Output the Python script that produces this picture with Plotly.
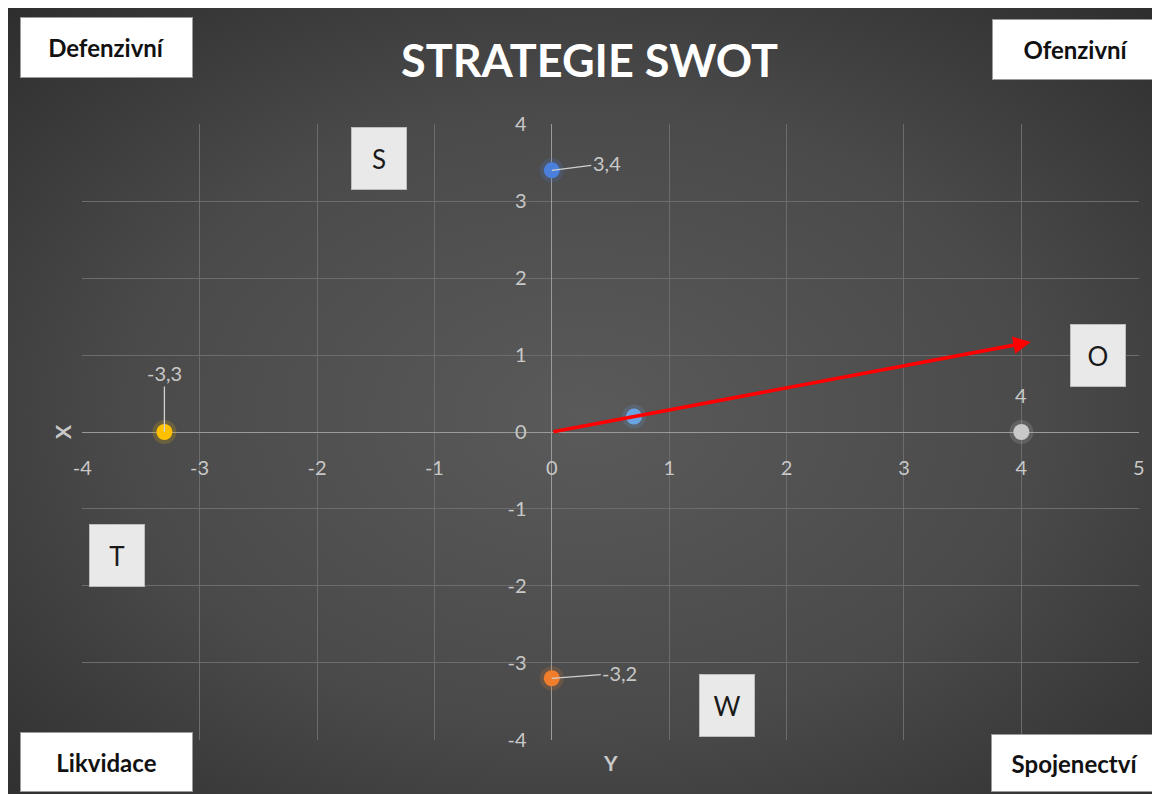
import base64
import plotly.graph_objects as go

# ---------------- data ----------------
point_names = ["S", "W", "O", "T", "Výsledek"]
point_x = [0, 0, 4, -3.3, 0.7]
point_y = [3.4, -3.2, 0, 0, 0.2]
point_colors = ["#4a7fdc", "#f07d2c", "#c9c9c9", "#ffc000", "#6aa3e2"]

label_values = [3.4, -3.2, 4, -3.3]          # data labels for S, W, O, T
arrow_end = [4.08, 1.17]                       # direction of resulting strategy

x_ticks = [-4, -3, -2, -1, 0, 1, 2, 3, 4, 5]
y_ticks = [-4, -3, -2, -1, 0, 1, 2, 3, 4]

quadrant_letters = ["S", "W", "O", "T"]
quadrant_pos_x = [-1.47, 1.49, 4.65, -3.70]
quadrant_pos_y = [3.55, -3.55, 0.99, -1.60]

corner_texts = ["Defenzivní", "Ofenzivní", "Likvidace", "Spojenectví"]
title_text = "STRATEGIE SWOT"

# ---------------- geometry (reference pixel frame, page has 8px body margin) ----------------
OX, OY = 8, 8
W, H = 1152, 786
PX_L, PX_R, PX_T, PX_B = 82, 1139, 124, 740
X0_PX, Y0_PX = 551.5, 432


def fx(px):
    return (px - OX) / W


def fy(py):
    return 1 - (py - OY) / H


def fmt(v):
    return ("%g" % v).replace(".", ",")


TICK_COL = "#c8c8c8"
FONT = "Lato"

fig = go.Figure()

# soft glow under markers
fig.add_trace(go.Scatter(
    x=point_x, y=point_y, mode="markers",
    marker=dict(size=24, color=point_colors, opacity=0.18, line=dict(width=0)),
    hoverinfo="skip", showlegend=False))
fig.add_trace(go.Scatter(
    x=point_x, y=point_y, mode="markers",
    marker=dict(size=16, color=point_colors, line=dict(width=0)),
    text=point_names, showlegend=False))

# background gradient (radial) as svg image
svg = ("<svg xmlns='http://www.w3.org/2000/svg' width='1152' height='786' "
       "viewBox='0 0 1152 786' preserveAspectRatio='none'>"
       "<defs><radialGradient id='g' cx='50%' cy='52%' r='72%'>"
       "<stop offset='0' stop-color='#5a5a5a'/>"
       "<stop offset='0.55' stop-color='#4a4a4a'/>"
       "<stop offset='1' stop-color='#2e2e2e'/></radialGradient></defs>"
       "<rect width='100%' height='100%' fill='url(#g)'/></svg>")
src = "data:image/svg+xml;base64," + base64.b64encode(svg.encode()).decode()

annotations = []

# title
annotations.append(dict(
    text="<b>" + title_text + "</b>", xref="paper", yref="paper",
    x=fx(589), y=fy(60), xanchor="center", yanchor="middle", showarrow=False,
    font=dict(family=FONT, size=45, color="#ffffff")))

# corner boxes
corner_cx = [106, 1076, 106, 1075]
corner_cy = [47, 50, 762, 763]
corner_w = [171, 166, 171, 166]
corner_h = [59, 59, 58, 56]
for t, cx, cy, w, h in zip(corner_texts, corner_cx, corner_cy, corner_w, corner_h):
    annotations.append(dict(
        text="<b>" + t + "</b>", xref="paper", yref="paper", x=fx(cx), y=fy(cy),
        xanchor="center", yanchor="middle", showarrow=False, width=w, height=h,
        bgcolor="#ffffff", bordercolor="#9a9a9a", borderwidth=1, borderpad=0,
        font=dict(family=FONT, size=24, color="#111111")))

# quadrant letter boxes
for t, qx, qy in zip(quadrant_letters, quadrant_pos_x, quadrant_pos_y):
    annotations.append(dict(
        text=t, x=qx, y=qy, xref="x", yref="y", showarrow=False,
        xanchor="center", yanchor="middle", width=54, height=61,
        bgcolor="#e9e9e9", bordercolor="#bdbdbd", borderwidth=1, borderpad=0,
        font=dict(family=FONT, size=26, color="#1a1a1a")))

# data labels
lab_ax = [55, 68, 0, 0]
lab_ay = [-7, -5, -37, -59]
lab_arrow = [True, True, False, True]
for i, v in enumerate(label_values):
    annotations.append(dict(
        text=fmt(v), x=point_x[i], y=point_y[i], xref="x", yref="y",
        showarrow=True, ax=lab_ax[i], ay=lab_ay[i], arrowhead=0,
        arrowwidth=1.3, standoff=0,
        arrowcolor="#d0d0d0" if lab_arrow[i] else "rgba(0,0,0,0)",
        font=dict(family=FONT, size=20, color=TICK_COL)))

# resulting strategy arrow
annotations.append(dict(
    x=arrow_end[0], y=arrow_end[1], ax=0, ay=0, xref="x", yref="y",
    axref="x", ayref="y", text="", showarrow=True, arrowhead=2,
    arrowsize=1.0, arrowwidth=3.5, arrowcolor="#ff0000", standoff=0))

# axis titles
annotations.append(dict(
    text="<b>X</b>", xref="paper", yref="paper", x=fx(62), y=fy(432),
    showarrow=False, textangle=-90, xanchor="center", yanchor="middle",
    font=dict(family=FONT, size=21, color=TICK_COL)))
annotations.append(dict(
    text="<b>Y</b>", xref="paper", yref="paper", x=fx(610), y=fy(762),
    showarrow=False, xanchor="center", yanchor="middle",
    font=dict(family=FONT, size=21, color=TICK_COL)))

fig.update_layout(
    width=W, height=H,
    margin=dict(l=0, r=0, t=0, b=0, pad=0, autoexpand=False),
    paper_bgcolor="#3a3a3a",
    plot_bgcolor="rgba(0,0,0,0)",
    showlegend=False,
    images=[dict(source=src, xref="paper", yref="paper", x=0, y=1,
                 sizex=1, sizey=1, xanchor="left", yanchor="top",
                 sizing="stretch", layer="below")],
    annotations=annotations,
    xaxis=dict(
        automargin=False,
        range=[-4.002, 5.002], domain=[fx(PX_L), fx(PX_R)],
        anchor="free", position=fy(Y0_PX),
        tickvals=x_ticks, ticktext=[str(v) for v in x_ticks],
        showgrid=True, gridcolor="#6c6c6c", gridwidth=1,
        zeroline=True, zerolinecolor="#9a9a9a", zerolinewidth=1.2,
        showline=False, ticks="outside", ticklen=18, tickcolor="rgba(0,0,0,0)",
        tickfont=dict(family=FONT, size=20, color=TICK_COL)),
    yaxis=dict(
        automargin=False,
        range=[-4.002, 4.002], domain=[fy(PX_B), fy(PX_T)],
        anchor="free", position=fx(X0_PX),
        tickvals=y_ticks, ticktext=[str(v) for v in y_ticks],
        showgrid=True, gridcolor="#6c6c6c", gridwidth=1,
        zeroline=True, zerolinecolor="#9a9a9a", zerolinewidth=1.2,
        showline=False, ticks="outside", ticklen=21, tickcolor="rgba(0,0,0,0)",
        tickfont=dict(family=FONT, size=20, color=TICK_COL)),
)

fig.write_html("out.html")
